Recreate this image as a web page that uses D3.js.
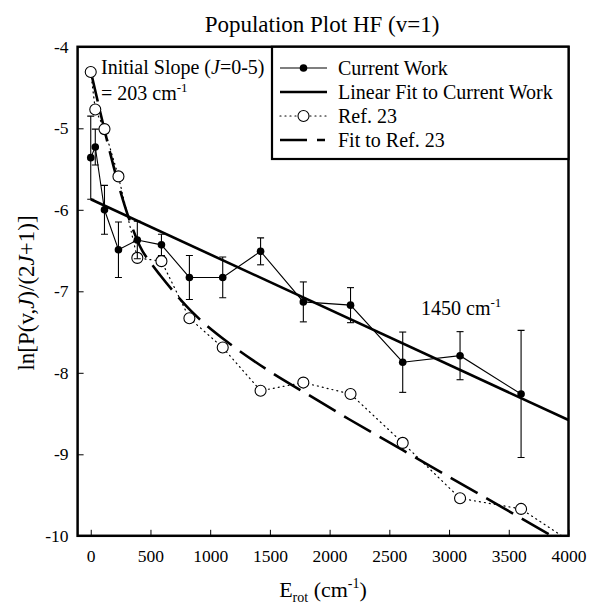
<!DOCTYPE html>
<html>
<head>
<meta charset="utf-8">
<script src="https://cdn.jsdelivr.net/npm/d3@7"></script>
<style>
body{margin:0;background:#fff}
text{font-family:"Liberation Serif","Times New Roman",serif;fill:#000}
</style>
</head>
<body>
<svg id="plot"></svg>
<script>
// rotational energies (cm-1) of the J levels
var energies = [0,38,115,232,390,592,826,1105,1422,1780,2175,2612,3092,3603]
var currentWork = [-5.36,-5.23,-6.00,-6.49,-6.37,-6.43,-6.83,-6.83,-6.51,-7.13,-7.17,-7.87,-7.79,-8.26]
var currentErr = [0.51,0.22,0.30,0.34,0.23,0.13,0.27,0.25,0.165,0.245,0.215,0.37,0.295,0.78]

var refEnergies = [0,38,115,232,390,592,826,1105,1422,1780,2175,2612,3092,3603,4150]
var ref23 = [-4.31,-4.77,-5.01,-5.59,-6.59,-6.63,-7.33,-7.69,-8.22,-8.12,-8.26,-8.86,-9.54,-9.67,-10.2]

var linFitE = [0,4000]
var linFitY = [-5.87,-8.58]

var refFitE = [0,343,413,522,580,807,874,1142,1225,1485,1822,2163,2507,2613,3847,4000]
var refFitY = [-4.30,-6.20,-6.45,-6.69,-6.80,-7.19,-7.29,-7.62,-7.71,-7.97,-8.27,-8.57,-8.86,-8.95,-9.99,-10.12]

var xTicks = [0,500,1000,1500,2000,2500,3000,3500,4000]
var yTicks = [-4,-5,-6,-7,-8,-9,-10]

var legendLabels = ["Current Work","Linear Fit to Current Work","Ref. 23","Fit to Ref. 23"]

var width = 589, height = 605
var svg = d3.select("#plot").attr("width",width).attr("height",height)

var x = d3.scaleLinear().domain([-110,4000]).range([77.6,568.5])
var y = d3.scaleLinear().domain([-10,-4]).range([535.8,46.8])

svg.append("defs").append("clipPath").attr("id","clip")
   .append("rect")
   .attr("x",x.range()[0]).attr("y",y.range()[1])
   .attr("width",x.range()[1]-x.range()[0])
   .attr("height",y.range()[0]-y.range()[1])

var zip = (xs,ys)=>xs.map((d,i)=>[d,ys[i]])
var line = d3.line().x(d=>x(d[0])).y(d=>y(d[1]))

// axes, ticks pointing inward
svg.append("g")
   .attr("transform",`translate(0,${y.range()[0]})`)
   .call(d3.axisBottom(x).tickValues(xTicks).tickFormat(d=>String(d)).tickSizeInner(-6).tickSizeOuter(0).tickPadding(14))
   .call(g=>g.select(".domain").remove())
   .call(g=>g.selectAll("text").attr("font-size","17.5px").style("font-family",'"Liberation Serif",serif'))

svg.append("g")
   .attr("transform",`translate(${x.range()[0]},0)`)
   .call(d3.axisLeft(y).tickValues(yTicks).tickFormat(d=>String(d)).tickSizeInner(-6).tickSizeOuter(0).tickPadding(9))
   .call(g=>g.select(".domain").remove())
   .call(g=>g.selectAll("text").attr("font-size","17.5px").style("font-family",'"Liberation Serif",serif'))

var chart = svg.append("g").attr("clip-path","url(#clip)")

// fit to ref 23
chart.append("path")
     .datum(zip(refFitE,refFitY))
     .attr("d",line.curve(d3.curveMonotoneX))
     .attr("fill","none").attr("stroke","#000")
     .attr("stroke-width",2.6).attr("stroke-dasharray","31,10")
line.curve(d3.curveLinear)

// linear fit
chart.append("path")
     .datum(zip(linFitE,linFitY))
     .attr("d",line)
     .attr("fill","none").attr("stroke","#000").attr("stroke-width",2.6)

// ref 23, dotted
chart.append("path")
     .datum(zip(refEnergies,ref23))
     .attr("d",line)
     .attr("fill","none").attr("stroke","#000").attr("stroke-width",1.2)
     .attr("stroke-dasharray","1,4").attr("stroke-linecap","round")

chart.selectAll(".ref")
     .data(zip(refEnergies,ref23))
     .enter().append("circle")
     .classed("ref",true)
     .attr("cx",d=>x(d[0])).attr("cy",d=>y(d[1])).attr("r",5.5)
     .attr("fill","#fff").attr("stroke","#000").attr("stroke-width",1.1)

// current work with error bars
var cw = energies.map((e,i)=>({e:e,v:currentWork[i],err:currentErr[i]}))
chart.append("path")
     .datum(cw.map(d=>[d.e,d.v]))
     .attr("d",line)
     .attr("fill","none").attr("stroke","#000").attr("stroke-width",1.1)

var bars = chart.selectAll(".err").data(cw).enter().append("g").classed("err",true)
bars.append("line")
    .attr("x1",d=>x(d.e)).attr("x2",d=>x(d.e))
    .attr("y1",d=>y(d.v+d.err)).attr("y2",d=>y(d.v-d.err))
    .attr("stroke","#000").attr("stroke-width",1.1)
bars.selectAll(".cap")
    .data(d=>[{e:d.e,v:d.v+d.err},{e:d.e,v:d.v-d.err}])
    .enter().append("line")
    .attr("x1",d=>x(d.e)-3.5).attr("x2",d=>x(d.e)+3.5)
    .attr("y1",d=>y(d.v)).attr("y2",d=>y(d.v))
    .attr("stroke","#000").attr("stroke-width",1.1)

chart.selectAll(".cur")
     .data(cw)
     .enter().append("circle")
     .classed("cur",true)
     .attr("cx",d=>x(d.e)).attr("cy",d=>y(d.v)).attr("r",3.8)
     .attr("fill","#000")

// frame
svg.append("rect")
   .attr("x",x.range()[0]).attr("y",y.range()[1])
   .attr("width",x.range()[1]-x.range()[0])
   .attr("height",y.range()[0]-y.range()[1])
   .attr("fill","none").attr("stroke","#000").attr("stroke-width",2.5)

// legend
var lg = svg.append("g")
lg.append("rect")
  .attr("x",272).attr("y",y.range()[1]).attr("width",x.range()[1]-272).attr("height",159-y.range()[1])
  .attr("fill","#fff").attr("stroke","#000").attr("stroke-width",2.2)
var rows = lg.selectAll(".row").data(legendLabels).enter().append("g")
             .attr("transform",(d,i)=>`translate(0,${68+i*24})`)
rows.append("text").attr("x",338).attr("y",7).attr("font-size","20px").text(d=>d)
rows.append("line")
    .attr("x1",280).attr("x2",(d,i)=>i==3?325:327).attr("y1",0).attr("y2",0)
    .attr("stroke","#000")
    .attr("stroke-width",(d,i)=>i==1||i==3?2.6:(i==2?1.2:1.1))
    .attr("stroke-dasharray",(d,i)=>i==2?"1,4":(i==3?"27,10":null))
    .attr("stroke-linecap",(d,i)=>i==2?"round":"butt")
rows.filter((d,i)=>i==0).append("circle").attr("cx",303.5).attr("cy",0).attr("r",3.8).attr("fill","#000")
rows.filter((d,i)=>i==2).append("circle").attr("cx",303.5).attr("cy",0).attr("r",5.5)
    .attr("fill","#fff").attr("stroke","#000").attr("stroke-width",1.1)

// annotations
var t1 = svg.append("text").attr("x",101).attr("y",74).attr("font-size","20px")
t1.append("tspan").text("Initial Slope (")
t1.append("tspan").attr("font-style","italic").text("J")
t1.append("tspan").text("=0-5)")
var t2 = svg.append("text").attr("x",101).attr("y",100).attr("font-size","20px")
t2.append("tspan").text("= 203 cm")
t2.append("tspan").attr("font-size","13px").attr("dy","-8").text("-1")

var t3 = svg.append("text").attr("x",421).attr("y",315).attr("font-size","20px")
t3.append("tspan").text("1450 cm")
t3.append("tspan").attr("font-size","13px").attr("dy","-8").text("-1")

// titles
svg.append("text").attr("x",322).attr("y",32).attr("text-anchor","middle")
   .attr("font-size","23px").text("Population Plot HF (v=1)")

var xt = svg.append("text").attr("x",323).attr("y",597).attr("text-anchor","middle").attr("font-size","22px")
xt.append("tspan").text("E")
xt.append("tspan").attr("font-size","14px").attr("dy","5").text("rot")
xt.append("tspan").attr("dy","-5").text(" (cm")
xt.append("tspan").attr("font-size","14px").attr("dy","-9").text("-1")
xt.append("tspan").attr("dy","9").text(")")

var yt = svg.append("text").attr("transform","translate(34,293) rotate(-90)")
   .attr("text-anchor","middle").attr("font-size","23px")
yt.append("tspan").text("ln[P(v,")
yt.append("tspan").attr("font-style","italic").text("J")
yt.append("tspan").text(")/(2")
yt.append("tspan").attr("font-style","italic").text("J")
yt.append("tspan").text("+1)]")
</script>
</body>
</html>
